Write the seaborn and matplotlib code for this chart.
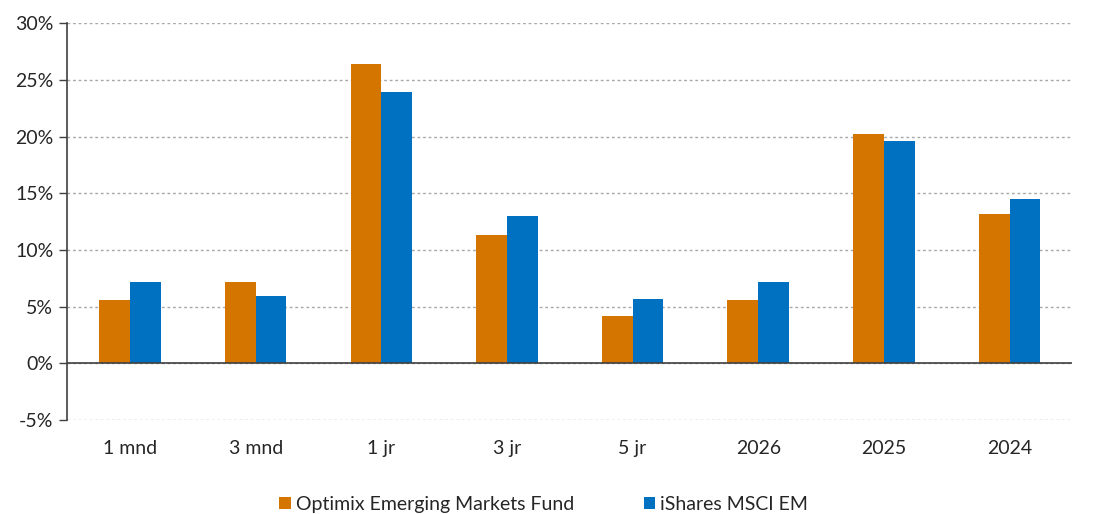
import pandas as pd
import matplotlib.pyplot as plt
import seaborn as sns
from matplotlib.ticker import FuncFormatter

# Data
periods = ["1 mnd", "3 mnd", "1 jr", "3 jr", "5 jr", "2026", "2025", "2024"]
fund = [5.6, 7.2, 26.4, 11.3, 4.2, 5.6, 20.2, 13.2]
index = [7.2, 5.9, 23.9, 13.0, 5.65, 7.2, 19.6, 14.5]
series = ["Optimix Emerging Markets Fund", "iShares MSCI EM"]
colors = ["#D47500", "#0070C0"]

df = pd.DataFrame({
    "Periode": periods * 2,
    "Rendement": fund + index,
    "Serie": [series[0]] * len(periods) + [series[1]] * len(periods),
})

sns.set_style("white")
plt.rcParams["font.family"] = ["Lato", "DejaVu Sans"]

fig = plt.figure(figsize=(11.01, 5.14), dpi=100)
ax = fig.add_axes([0.061, 0.183, 0.913, 0.772])

sns.barplot(
    data=df, x="Periode", y="Rendement", hue="Serie",
    palette=colors, width=0.49, saturation=1, linewidth=0, ax=ax,
)

ax.set_ylim(-5, 30)
ax.set_yticks(range(-5, 31, 5))
ax.yaxis.set_major_formatter(FuncFormatter(lambda v, _: f"{v:.0f}%"))
ax.set_xlim(-0.5, len(periods) - 0.5)
ax.set_xlabel("")
ax.set_ylabel("")

ax.grid(axis="y", linestyle=(0, (2, 2)), color="#a8a8a8", linewidth=1.0)
ax.set_axisbelow(True)
ax.axhline(0, color="#404040", linewidth=1.2, zorder=3)

for s in ["top", "right", "bottom"]:
    ax.spines[s].set_visible(False)
ax.spines["left"].set_color("#404040")
ax.spines["left"].set_linewidth(1.2)

ax.tick_params(axis="y", left=True, length=6, width=1.0, color="#404040",
               labelsize=14, pad=4)
ax.tick_params(axis="x", bottom=False, labelsize=14, pad=11)

handles, labels = ax.get_legend_handles_labels()
ax.legend(handles, labels, loc="center", bbox_to_anchor=(0.474, -0.212),
          ncol=2, frameon=False, fontsize=14, handlelength=0.6,
          handleheight=0.6, handletextpad=0.25, columnspacing=3.6)

fig.savefig("out.png", dpi=100)
